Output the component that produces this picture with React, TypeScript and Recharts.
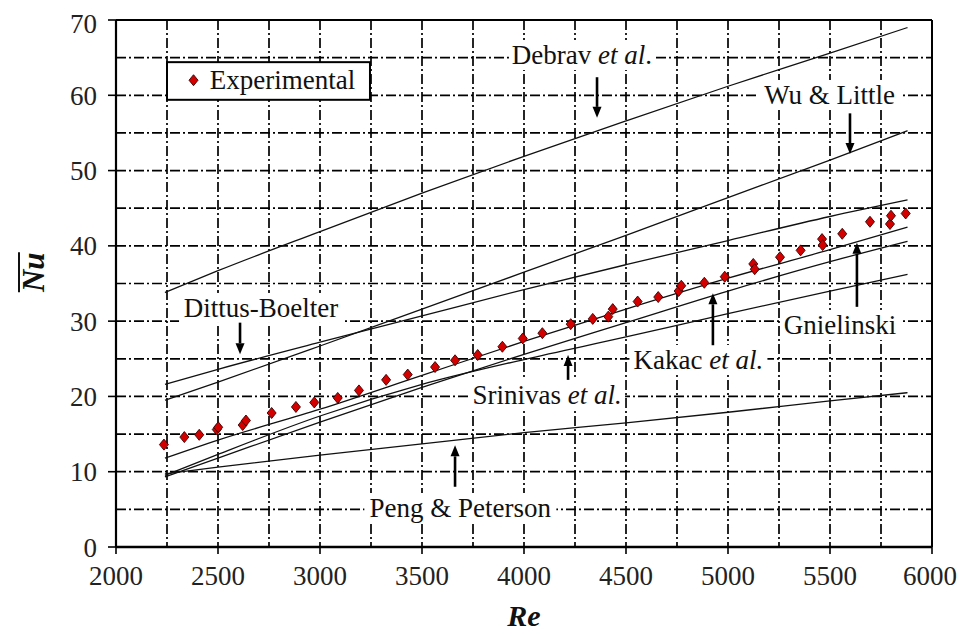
import React from 'react';
import { ComposedChart, Line, Scatter, XAxis, YAxis, CartesianGrid, ReferenceLine } from 'recharts';

// ---- data ----
const reGrid = [2240, 2500, 3000, 3500, 4000, 4500, 5000, 5500, 5880];
const debravNu = [33.8, 36.7, 41.9, 47.0, 51.9, 56.6, 61.2, 65.6, 69.0];
const wuLittleNu = [19.5, 21.9, 26.7, 31.6, 36.5, 41.4, 46.4, 51.4, 55.3];
const dittusNu = [21.6, 23.6, 27.2, 30.7, 34.2, 37.5, 40.7, 43.9, 46.1];
const gnielinskiNu = [11.8, 14.2, 18.3, 22.8, 27.3, 31.6, 35.7, 39.5, 42.5];
const kakacNu = [9.3, 11.8, 16.6, 21.2, 25.6, 29.8, 34.0, 37.9, 40.6];
const srinivasNu = [9.5, 12.3, 17.4, 21.6, 24.9, 27.9, 31.0, 34.0, 36.2];
const pengNu = [9.7, 10.6, 12.2, 13.7, 15.2, 16.5, 17.9, 19.4, 20.5];

const expRe = [2235, 2335, 2408, 2494, 2501, 2621, 2637, 2763, 2882, 2972, 3087, 3191, 3324, 3430, 3564, 3662, 3773, 3894, 3994, 4090, 4229, 4337, 4413, 4435, 4557, 4658, 4758, 4771, 4884, 4984, 5124, 5131, 5255, 5356, 5461, 5464, 5560, 5696, 5794, 5799, 5871];
const expNu = [13.6, 14.6, 14.9, 15.6, 15.9, 16.2, 16.8, 17.8, 18.6, 19.2, 19.8, 20.8, 22.2, 22.9, 23.9, 24.8, 25.5, 26.6, 27.7, 28.4, 29.6, 30.3, 30.6, 31.6, 32.6, 33.2, 34.0, 34.7, 35.1, 35.9, 37.6, 36.9, 38.5, 39.4, 40.9, 40.1, 41.6, 43.2, 42.9, 44.0, 44.3];

const xTicks = [2000, 2500, 3000, 3500, 4000, 4500, 5000, 5500, 6000];
const yTicks = [0, 10, 20, 30, 40, 50, 60, 70];
const gridX = [2250, 2500, 2750, 3000, 3250, 3500, 3750, 4000, 4250, 4500, 4750, 5000, 5250, 5500, 5750];
const gridY = [5, 10, 15, 20, 25, 30, 35, 40, 45, 50, 55, 60, 65];

// annotations: [label, italic part, tail text, text re, text nu, box width, arrow re, arrow tail nu, arrow tip nu]
const notes: [string, string, string, number, number, number, number, number, number][] = [
  ['Debrav ', 'et al', '.', 4284, 65.35, 146, 4358, 62.4, 57.0],
  ['Wu & Little', '', '', 5498, 60.04, 142, 5598, 57.6, 52.2],
  ['Dittus-Boelter', '', '', 2711, 31.75, 164, 2608, 29.8, 25.6],
  ['Srinivas ', 'et al.', '', 4113, 20.19, 156, 4216, 22.2, 25.5],
  ['Kakac ', 'et al.', '', 4855, 24.84, 138, 4926, 26.8, 33.7],
  ['Gnielinski', '', '', 5549, 29.49, 120, 5632, 31.9, 40.4],
  ['Peng & Peterson', '', '', 3688, 5.18, 192, 3662, 8.0, 13.5],
];

const lineData = (vals: number[]) => reGrid.map((re, i) => ({ re, nu: vals[i] }));
const expData = expRe.map((re, i) => ({ re, nu: expNu[i] }));
const series = [debravNu, wuLittleNu, dittusNu, gnielinskiNu, kakacNu, srinivasNu, pengNu];

const W = 949;
const H = 628;
const M = { top: 12, right: 25, left: 0, bottom: 0 };
const YW = 108;
const XH = 89;
const PL = M.left + YW;
const PT = M.top;
const PW = W - PL - M.right;
const PH = H - PT - XH - M.bottom;
const px = (re: number) => PL + ((re - 2000) / 4000) * PW;
const py = (nu: number) => PT + ((70 - nu) / 70) * PH;

const FONT = "'Liberation Serif', 'DejaVu Serif', 'Times New Roman', Times, serif";
const tf = { fontFamily: FONT };

const Diamond = (props: any) => {
  const { cx, cy } = props;
  if (cx == null || cy == null) return null;
  return (
    <polygon
      points={`${cx},${cy - 5.5} ${cx + 4.5},${cy} ${cx},${cy + 5.5} ${cx - 4.5},${cy}`}
      fill="#d40000"
      stroke="#3a0000"
      strokeWidth={0.9}
    />
  );
};

const Arrow = ({ x, y1, y2 }: { x: number; y1: number; y2: number }) => {
  const dir = y2 > y1 ? 1 : -1;
  const headLen = 11;
  const base = y2 - dir * headLen;
  return (
    <g>
      <line x1={x} y1={y1} x2={x} y2={base} stroke="#000" strokeWidth={2.6} />
      <polygon points={`${x - 4.5},${base} ${x + 4.5},${base} ${x},${y2}`} fill="#000" />
    </g>
  );
};

export default function App() {
  return (
    <div style={{ position: 'relative', width: W, height: H, fontFamily: FONT }}>
      <ComposedChart width={W} height={H} margin={M} style={tf}>
        <CartesianGrid
          horizontalValues={gridY}
          verticalValues={gridX}
          stroke="#000"
          strokeWidth={1.7}
          strokeDasharray="10 3 2 3"
        />
        <XAxis
          type="number"
          dataKey="re"
          domain={[2000, 6000]}
          ticks={xTicks}
          height={XH}
          allowDataOverflow
          axisLine={{ stroke: '#000', strokeWidth: 2.5 }}
          tickLine={{ stroke: '#000', strokeWidth: 1.6 }}
          tickSize={7}
          tickMargin={12}
          tick={{ fill: '#222', fontSize: 27, fontFamily: FONT, style: tf }}
        />
        <YAxis
          type="number"
          dataKey="nu"
          domain={[0, 70]}
          ticks={yTicks}
          width={YW}
          allowDataOverflow
          axisLine={{ stroke: '#000', strokeWidth: 2.2 }}
          tickLine={{ stroke: '#000', strokeWidth: 1.6 }}
          tickSize={8}
          tickMargin={11}
          tick={{ fill: '#222', fontSize: 27, fontFamily: FONT, style: tf }}
        />
        <ReferenceLine y={70} stroke="#000" strokeWidth={2} ifOverflow="extendDomain" />
        <ReferenceLine x={6000} stroke="#000" strokeWidth={2} ifOverflow="extendDomain" />
        {series.map((vals, i) => (
          <Line
            key={i}
            data={lineData(vals)}
            dataKey="nu"
            type="monotone"
            dot={false}
            stroke="#111"
            strokeWidth={1.3}
            isAnimationActive={false}
            legendType="none"
          />
        ))}
        <Scatter data={expData} dataKey="nu" shape={Diamond} isAnimationActive={false} />
      </ComposedChart>
      <svg
        width={W}
        height={H}
        style={{ position: 'absolute', left: 0, top: 0, pointerEvents: 'none', fontFamily: FONT }}
      >
        {/* legend */}
        <rect x={px(2250)} y={py(64.4)} width={px(3245) - px(2250)} height={py(59.4) - py(64.4)} fill="#fff" stroke="#000" strokeWidth={2} />
        <polygon
          points={`${px(2380)},${py(62.0) - 5.5} ${px(2380) + 4.5},${py(62.0)} ${px(2380)},${py(62.0) + 5.5} ${px(2380) - 4.5},${py(62.0)}`}
          fill="#d40000"
          stroke="#3a0000"
          strokeWidth={0.9}
        />
        <text x={px(2460)} y={py(62.0) + 9} fontSize={27} fill="#111" style={tf}>Experimental</text>
        {notes.map(([a, b, c, re, nu, bw, are, tail, tip], i) => (
          <g key={i}>
            <rect x={px(re) - bw / 2} y={py(nu) - 15} width={bw} height={30} fill="#fff" />
            <text x={px(re)} y={py(nu) + 9} fontSize={27} fill="#111" textAnchor="middle" style={tf}>
              {a}
              {b ? <tspan fontStyle="italic">{b}</tspan> : null}
              {c}
            </text>
            <Arrow x={px(are)} y1={py(tail)} y2={py(tip)} />
          </g>
        ))}
        {/* axis titles */}
        <text x={px(4000)} y={H - 10} fontSize={30} fontWeight="bold" fontStyle="italic" textAnchor="middle" fill="#111" style={tf}>Re</text>
        <g transform={`translate(36, ${py(36.5)}) rotate(-90)`}>
          <text x={0} y={0} fontSize={31} fontWeight="bold" fontStyle="italic" textAnchor="middle" fill="#111" style={tf}>Nu</text>
          <line x1={-20} y1={-25} x2={20} y2={-25} stroke="#111" strokeWidth={2} />
        </g>
      </svg>
    </div>
  );
}
